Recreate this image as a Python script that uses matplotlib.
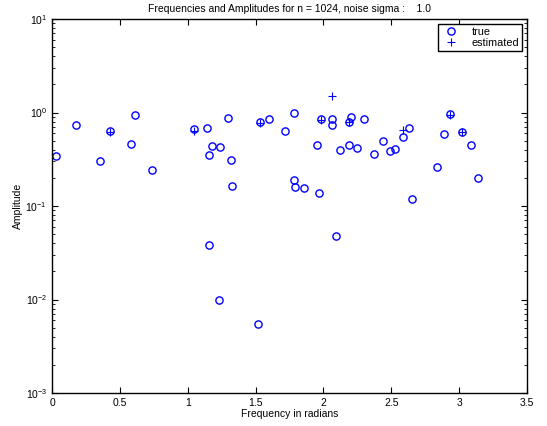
import matplotlib
matplotlib.use('Agg')
import matplotlib.pyplot as plt
import matplotlib.ticker as mticker

plt.rcParams['font.family'] = ['Liberation Sans', 'DejaVu Sans']

# true frequencies / amplitudes
true_freq = [0.03, 0.18, 0.35, 0.43, 0.58, 0.61, 0.74, 1.05, 1.14, 1.16, 1.18, 1.24,
             1.30, 1.32, 1.33, 1.16, 1.23, 1.52, 1.53, 1.60, 1.72, 1.78, 1.78, 1.79,
             1.86, 1.97, 1.95, 1.98, 2.06, 2.06, 2.12, 2.09, 2.19, 2.20, 2.19, 2.25,
             2.30, 2.37, 2.44, 2.49, 2.53, 2.59, 2.63, 2.65, 2.84, 2.89, 2.93, 3.02,
             3.09, 3.14]
true_amp = [0.34, 0.73, 0.30, 0.64, 0.46, 0.93, 0.24, 0.66, 0.69, 0.35, 0.44, 0.43,
            0.88, 0.31, 0.165, 0.038, 0.0098, 0.0055, 0.80, 0.86, 0.64, 0.98, 0.19, 0.16,
            0.155, 0.137, 0.45, 0.86, 0.86, 0.73, 0.40, 0.048, 0.45, 0.89, 0.79, 0.42,
            0.86, 0.36, 0.49, 0.39, 0.41, 0.55, 0.69, 0.12, 0.26, 0.59, 0.97, 0.62,
            0.45, 0.20]

# estimated (only the ones that show apart from the circles)
est_freq = [0.43, 1.05, 1.53, 1.98, 2.06, 2.19, 2.59, 2.93, 3.02]
est_amp = [0.62, 0.64, 0.78, 0.84, 1.51, 0.80, 0.65, 0.95, 0.62]

fig = plt.figure(figsize=(5.47, 4.26), dpi=100)
ax = fig.add_axes([52/547, 1 - 393/426, 475/547, 374/426])

ax.semilogy(true_freq, true_amp, 'o', mfc='none', mec='blue', mew=1.0, ms=5.2, label='true')
ax.semilogy(est_freq, est_amp, '+', color='blue', mew=0.8, ms=5.5, label='estimated')

ax.set_xlim(0, 3.5)
ax.set_ylim(1e-3, 1e1)
ax.xaxis.set_major_locator(mticker.MultipleLocator(0.5))
ax.xaxis.set_major_formatter(mticker.FuncFormatter(lambda v, p: ('%g' % v)))
ax.tick_params(which='both', direction='in', top=True, right=True, labelsize=7.5)
ax.tick_params(which='major', length=4)
ax.tick_params(which='minor', length=2)
for s in ax.spines.values():
    s.set_linewidth(1.0)

ax.set_title('Frequencies and Amplitudes for n = 1024, noise sigma :    1.0', fontsize=7.5, pad=5)
ax.set_xlabel('Frequency in radians', fontsize=7.5, labelpad=1)
ax.set_ylabel('Amplitude', fontsize=7.5, labelpad=2)

leg = ax.legend(loc='upper right', fontsize=7.8, fancybox=False, framealpha=1,
                edgecolor='black', borderaxespad=0.45, handletextpad=0.9,
                borderpad=0.25, labelspacing=0.15)
leg.get_frame().set_linewidth(1.0)

fig.savefig('out.png', dpi=100)
